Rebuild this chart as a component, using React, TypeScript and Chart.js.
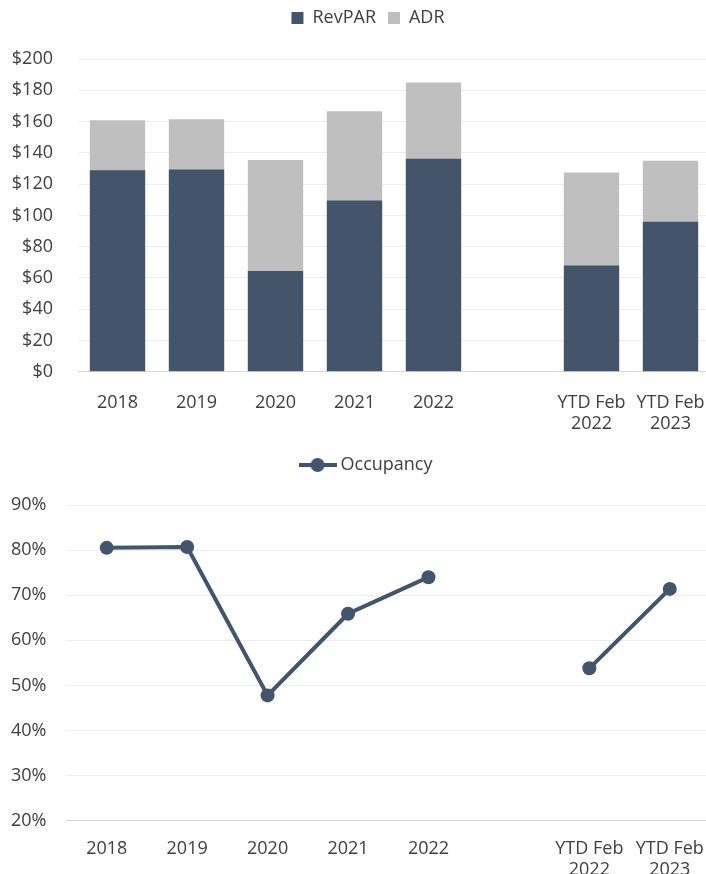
import React, { useEffect, useRef } from 'react';
import { Chart, registerables } from 'chart.js';

Chart.register(...registerables);

const categories: (string | string[])[] = ['2018', '2019', '2020', '2021', '2022', '', ['YTD Feb', '2022'], ['YTD Feb', '2023']];
const revpar = [128.9, 129.4, 64.5, 109.5, 136.3, null, 67.9, 96.0];
const adr = [160.8, 161.4, 135.5, 166.6, 184.9, null, 127.4, 135.0];
const occupancy = [80.5, 80.7, 47.8, 65.9, 74.0, null, 53.8, 71.4];

const DARK = '#44546A';
const LIGHT = '#BFBFBF';
const TEXT = '#404040';
const GRID = '#EDEDED';
const AXIS = '#D9D9D9';
const FONT = "'Open Sans', sans-serif";

const shiftLegend = {
  id: 'shiftLegend',
  afterLayout(chart: any) {
    const lg = chart.legend;
    if (lg) {
      lg.left += 13;
      lg.right += 13;
    }
  },
};

export default function App() {
  const topRef = useRef<HTMLCanvasElement>(null);
  const botRef = useRef<HTMLCanvasElement>(null);

  useEffect(() => {
    Chart.defaults.font.family = FONT;
    Chart.defaults.color = TEXT;

    const top = new Chart(topRef.current!, {
      type: 'bar',
      data: {
        labels: categories,
        datasets: [
          { label: 'RevPAR', data: revpar, backgroundColor: DARK, barPercentage: 0.7, categoryPercentage: 1 },
          { label: 'ADR', data: adr, backgroundColor: LIGHT, barPercentage: 0.7, categoryPercentage: 1 },
        ],
      },
      plugins: [shiftLegend],
      options: {
        responsive: false,
        animation: false,
        layout: { padding: { left: 0, right: 50, top: -3, bottom: 0 } },
        plugins: {
          tooltip: { enabled: false },
          legend: {
            position: 'top',
            labels: { boxWidth: 12, boxHeight: 12, padding: 12, font: { size: 18 }, color: TEXT },
          },
          title: {
            display: true,
            text: ' ',
            weight: 500,
            font: { size: 10, lineHeight: 1 },
            padding: { top: 12, bottom: 0 },
          } as any,
        },
        scales: {
          x: {
            stacked: true,
            grid: { display: false, drawTicks: false },
            border: { color: AXIS },
            ticks: { font: { size: 18 }, color: TEXT, padding: 20, maxRotation: 0, autoSkip: false },
          },
          y: {
            stacked: false,
            min: 0,
            max: 200,
            grid: { color: GRID, drawTicks: false },
            border: { display: false },
            ticks: { stepSize: 20, font: { size: 18 }, color: TEXT, padding: 25, callback: (v: any) => '$' + v },
            afterFit: (s: any) => { s.width = 78; },
          },
        },
      },
    });

    const legendImg = document.createElement('canvas');
    legendImg.width = 38;
    legendImg.height = 16;
    const lc = legendImg.getContext('2d')!;
    lc.strokeStyle = DARK;
    lc.lineWidth = 4;
    lc.beginPath();
    lc.moveTo(0, 8);
    lc.lineTo(38, 8);
    lc.stroke();
    lc.fillStyle = DARK;
    lc.beginPath();
    lc.arc(19, 8, 7, 0, Math.PI * 2);
    lc.fill();

    const bot = new Chart(botRef.current!, {
      type: 'line',
      data: {
        labels: categories,
        datasets: [
          {
            label: 'Occupancy',
            data: occupancy,
            borderColor: DARK,
            backgroundColor: DARK,
            borderWidth: 4,
            pointRadius: 7,
            pointBorderWidth: 0,
            pointBackgroundColor: DARK,
            spanGaps: false,
            tension: 0,
          },
        ],
      },
      plugins: [shiftLegend],
      options: {
        responsive: false,
        animation: false,
        layout: { padding: { left: 0, right: 50, top: -3, bottom: 0 } },
        plugins: {
          tooltip: { enabled: false },
          legend: {
            position: 'top',
            labels: {
              usePointStyle: true,
              pointStyleWidth: 28,
              padding: 12,
              font: { size: 18 },
              color: TEXT,
              generateLabels: (chart: any) =>
                Chart.defaults.plugins.legend.labels.generateLabels(chart).map((l: any) => ({ ...l, pointStyle: legendImg })),
            },
          },
          title: {
            display: true,
            text: ' ',
            weight: 500,
            font: { size: 10, lineHeight: 1 },
            padding: { top: 11, bottom: 0 },
          } as any,
        },
        scales: {
          x: {
            offset: true,
            grid: { display: false, drawTicks: false },
            border: { color: AXIS },
            ticks: { font: { size: 18 }, color: TEXT, padding: 17, maxRotation: 0, autoSkip: false },
          },
          y: {
            min: 20,
            max: 90,
            grid: { color: GRID, drawTicks: false },
            border: { display: false },
            ticks: { stepSize: 10, font: { size: 18 }, color: TEXT, padding: 20, callback: (v: any) => v + '%' },
            afterFit: (s: any) => { s.width = 66.5; },
          },
        },
      },
    });

    return () => {
      top.destroy();
      bot.destroy();
    };
  }, []);

  return (
    <div style={{ position: 'fixed', left: 0, top: 0, width: 706, height: 874, overflow: 'hidden', background: '#fff' }}>
      <canvas ref={topRef} width={760} height={455} style={{ position: 'absolute', left: 0, top: 0 }} />
      <canvas ref={botRef} width={760} height={451} style={{ position: 'absolute', left: 0, top: 447 }} />
    </div>
  );
}
